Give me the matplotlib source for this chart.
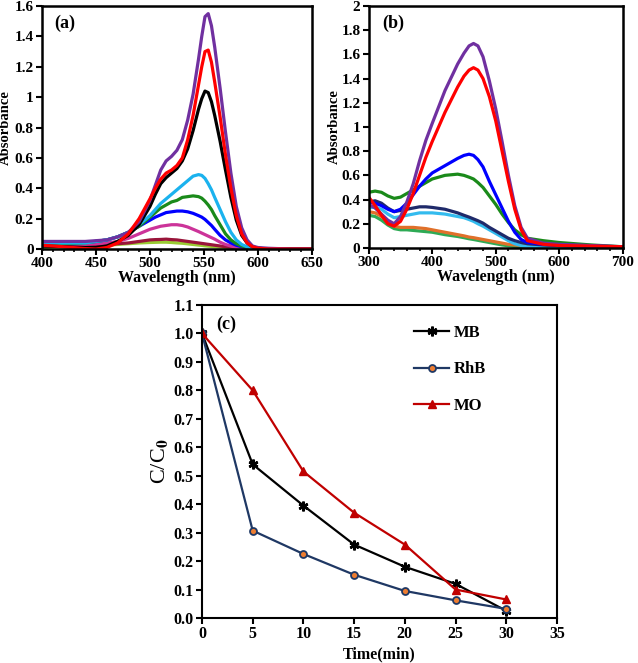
import matplotlib.pyplot as plt
from matplotlib.ticker import MultipleLocator, FormatStrFormatter

plt.rcParams['font.family'] = ['Liberation Serif', 'DejaVu Serif']
plt.rcParams['font.weight'] = 'bold'
plt.rcParams['mathtext.fontset'] = 'stix'

# ---- panel (a): RhB spectra ----
wl_a = [400, 420, 440, 450, 460, 470, 480, 490, 500, 505, 510, 515, 520, 525, 530, 535,
        540, 545, 548, 551, 554, 557, 560, 565, 570, 575, 580, 585, 590, 595, 600, 610, 630, 650]
a_purple = [0.05, 0.05, 0.05, 0.055, 0.06, 0.08, 0.11, 0.18, 0.32, 0.42, 0.52, 0.58, 0.61, 0.65, 0.72, 0.85,
            1.02, 1.25, 1.40, 1.53, 1.55, 1.47, 1.33, 1.06, 0.77, 0.50, 0.28, 0.14, 0.06, 0.02, 0.01, 0.005, 0.0, 0.0]
a_black = [0.02, 0.015, 0.01, 0.01, 0.02, 0.05, 0.09, 0.16, 0.28, 0.36, 0.43, 0.47, 0.50, 0.53, 0.58, 0.66,
           0.78, 0.92, 0.99, 1.04, 1.03, 0.97, 0.88, 0.71, 0.52, 0.34, 0.19, 0.09, 0.04, 0.015, 0.005, 0.0, 0.0, 0.0]
a_red = [0.025, 0.015, 0.003, 0.0, 0.01, 0.04, 0.10, 0.20, 0.33, 0.40, 0.46, 0.50, 0.52, 0.55, 0.60, 0.72,
         0.88, 1.08, 1.20, 1.30, 1.31, 1.23, 1.10, 0.87, 0.62, 0.40, 0.22, 0.10, 0.04, 0.015, 0.005, 0.0, 0.0, 0.0]
a_cyan = [0.04, 0.04, 0.04, 0.05, 0.06, 0.08, 0.11, 0.16, 0.22, 0.26, 0.30, 0.33, 0.36, 0.39, 0.42, 0.45,
          0.48, 0.49, 0.485, 0.465, 0.43, 0.39, 0.34, 0.26, 0.18, 0.11, 0.06, 0.03, 0.015, 0.008, 0.004, 0.002, 0.0, 0.0]
a_green = [0.03, 0.035, 0.04, 0.05, 0.06, 0.08, 0.11, 0.15, 0.21, 0.24, 0.27, 0.29, 0.31, 0.32, 0.34, 0.345,
           0.35, 0.345, 0.335, 0.315, 0.29, 0.26, 0.22, 0.16, 0.10, 0.06, 0.035, 0.02, 0.01, 0.005, 0.003, 0.0, 0.0, 0.0]
a_blue = [0.04, 0.04, 0.045, 0.05, 0.06, 0.08, 0.11, 0.15, 0.19, 0.21, 0.225, 0.24, 0.245, 0.25, 0.25, 0.245,
          0.235, 0.22, 0.21, 0.195, 0.175, 0.155, 0.13, 0.09, 0.06, 0.04, 0.025, 0.015, 0.008, 0.004, 0.002, 0.0, 0.0, 0.0]
a_magenta = [0.02, 0.025, 0.03, 0.035, 0.04, 0.05, 0.07, 0.10, 0.13, 0.14, 0.15, 0.155, 0.16, 0.16, 0.155, 0.145,
             0.13, 0.115, 0.105, 0.095, 0.085, 0.075, 0.065, 0.045, 0.03, 0.02, 0.01, 0.005, 0.003, 0.0, 0.0, 0.0, 0.0, 0.0]
a_maroon = [0.02, 0.022, 0.025, 0.028, 0.03, 0.035, 0.04, 0.05, 0.06, 0.062, 0.063, 0.065, 0.062, 0.06, 0.055, 0.05,
            0.045, 0.04, 0.037, 0.034, 0.031, 0.028, 0.025, 0.02, 0.015, 0.012, 0.008, 0.005, 0.003, 0.002, 0.0, 0.0, 0.0, 0.0]
a_lime = [0.01, 0.015, 0.02, 0.022, 0.025, 0.03, 0.035, 0.04, 0.043, 0.044, 0.045, 0.045, 0.043, 0.04, 0.038, 0.034,
          0.03, 0.026, 0.024, 0.021, 0.019, 0.017, 0.015, 0.012, 0.01, 0.007, 0.005, 0.003, 0.002, 0.001, 0.0, 0.0, 0.0, 0.0]
a_series = [(a_lime, '#99cc33'), (a_maroon, '#99143a'), (a_magenta, '#cc3399'), (a_blue, '#0000ff'),
            (a_green, '#1a8a1a'), (a_cyan, '#1ab2ee'), (a_black, '#000000'), (a_purple, '#7030a0'),
            (a_red, '#ff0000')]

# ---- panel (b): MO spectra ----
wl_b = [300, 310, 320, 330, 340, 350, 360, 370, 380, 390, 400, 420, 440, 450, 458, 465, 472, 480,
        490, 500, 510, 520, 530, 540, 550, 575, 600, 650, 700]
b_purple = [0.36, 0.33, 0.28, 0.23, 0.20, 0.26, 0.38, 0.53, 0.72, 0.89, 1.03, 1.30, 1.52, 1.61, 1.67, 1.69, 1.67, 1.58,
            1.38, 1.15, 0.88, 0.60, 0.35, 0.17, 0.08, 0.04, 0.03, 0.02, 0.01]
b_red = [0.42, 0.35, 0.27, 0.20, 0.18, 0.22, 0.32, 0.45, 0.60, 0.75, 0.88, 1.12, 1.33, 1.42, 1.47, 1.49, 1.47, 1.40,
         1.25, 1.05, 0.80, 0.55, 0.32, 0.15, 0.06, 0.03, 0.02, 0.015, 0.01]
b_blue = [0.38, 0.37, 0.35, 0.32, 0.30, 0.32, 0.37, 0.44, 0.51, 0.57, 0.62, 0.68, 0.74, 0.765, 0.775, 0.765, 0.73, 0.67,
          0.55, 0.44, 0.33, 0.22, 0.13, 0.07, 0.045, 0.03, 0.025, 0.015, 0.01]
b_green = [0.46, 0.47, 0.46, 0.43, 0.41, 0.42, 0.45, 0.48, 0.51, 0.54, 0.57, 0.60, 0.61, 0.60, 0.585, 0.57, 0.54, 0.50,
           0.43, 0.36, 0.28, 0.21, 0.15, 0.11, 0.08, 0.06, 0.045, 0.025, 0.01]
b_navy = [0.38, 0.39, 0.37, 0.33, 0.30, 0.31, 0.32, 0.33, 0.34, 0.34, 0.335, 0.32, 0.29, 0.27, 0.255, 0.24, 0.225, 0.205,
          0.17, 0.14, 0.11, 0.08, 0.06, 0.045, 0.035, 0.025, 0.02, 0.01, 0.005]
b_sky = [0.33, 0.34, 0.32, 0.28, 0.25, 0.26, 0.27, 0.28, 0.29, 0.29, 0.29, 0.28, 0.26, 0.25, 0.235, 0.22, 0.20, 0.18,
         0.15, 0.12, 0.09, 0.06, 0.035, 0.02, 0.01, 0.005, 0.003, 0.0, 0.0]
b_orange = [0.30, 0.29, 0.26, 0.22, 0.18, 0.17, 0.17, 0.17, 0.165, 0.16, 0.15, 0.13, 0.11, 0.10, 0.09, 0.085, 0.078, 0.07,
            0.06, 0.05, 0.04, 0.03, 0.025, 0.02, 0.018, 0.012, 0.01, 0.008, 0.005]
b_lgreen = [0.27, 0.26, 0.23, 0.19, 0.16, 0.15, 0.15, 0.145, 0.14, 0.135, 0.13, 0.11, 0.095, 0.085, 0.076, 0.07, 0.063, 0.055,
            0.045, 0.035, 0.025, 0.018, 0.012, 0.01, 0.008, 0.006, 0.005, 0.004, 0.003]
b_series = [(b_lgreen, '#2eaa55'), (b_orange, '#e0702a'), (b_sky, '#33bbee'), (b_navy, '#1f2a6a'),
            (b_green, '#1a8a1a'), (b_blue, '#0000ff'), (b_purple, '#7030a0'), (b_red, '#ff0000')]

# ---- panel (c): kinetics ----
time = [0, 5, 10, 15, 20, 25, 30]
mb = [1.0, 0.54, 0.395, 0.258, 0.18, 0.12, 0.025]
rhb = [1.0, 0.307, 0.225, 0.152, 0.095, 0.062, 0.032]
mo = [1.0, 0.80, 0.515, 0.37, 0.258, 0.10, 0.065]

fig = plt.figure(figsize=(6.38, 6.63), dpi=100)


def style(ax, lw=1.8, size=12):
    for s in ax.spines.values():
        s.set_linewidth(lw)
    ax.tick_params(which='major', direction='out', length=4, width=1.5, labelsize=size, pad=2)
    ax.tick_params(which='minor', direction='out', length=2.5, width=1.2)
    for lab in ax.get_xticklabels() + ax.get_yticklabels():
        lab.set_fontweight('bold')


ax1 = fig.add_axes([0.0658, 0.6244, 0.423, 0.3665])
for vals, c in a_series:
    ax1.plot(wl_a, vals, color=c, lw=2.3)
ax1.set_xlim(400, 650)
ax1.set_ylim(0, 1.6)
ax1.xaxis.set_major_locator(MultipleLocator(50))
ax1.xaxis.set_minor_locator(MultipleLocator(10))
ax1.yaxis.set_major_locator(MultipleLocator(0.2))
ax1.yaxis.set_major_formatter(plt.FuncFormatter(lambda v, p: f'{v:g}'))
ax1.set_xlabel('Wavelength (nm)', fontsize=11.5, fontweight='bold', labelpad=0)
ax1.set_ylabel('Absorbance', fontsize=10.5, fontweight='bold')
ax1.yaxis.set_label_coords(-0.11, 0.5)
ax1.text(0.045, 0.91, '(a)', transform=ax1.transAxes, fontsize=13, fontweight='bold')
style(ax1, size=11)

ax2 = fig.add_axes([0.578, 0.626, 0.398, 0.365])
for vals, c in b_series:
    ax2.plot(wl_b, vals, color=c, lw=2.3)
ax2.set_xlim(300, 700)
ax2.set_ylim(0, 2)
ax2.xaxis.set_major_locator(MultipleLocator(100))
ax2.xaxis.set_minor_locator(MultipleLocator(20))
ax2.yaxis.set_major_locator(MultipleLocator(0.2))
ax2.yaxis.set_major_formatter(plt.FuncFormatter(lambda v, p: f'{v:g}'))
ax2.set_xlabel('Wavelength (nm)', fontsize=11.5, fontweight='bold', labelpad=0)
ax2.set_ylabel('Absorbance', fontsize=10.5, fontweight='bold')
ax2.yaxis.set_label_coords(-0.11, 0.5)
ax2.text(0.055, 0.91, '(b)', transform=ax2.transAxes, fontsize=13, fontweight='bold')
style(ax2, size=11)

ax3 = fig.add_axes([0.3166, 0.0679, 0.5564, 0.472])
ax3.plot(time, mb, color='black', lw=1.6, marker=(6, 2, 0), ms=7, mew=1.8, label='MB')
ax3.plot(time, rhb, color='#1f3864', lw=1.6, marker='o', ms=5, mfc='#ed7d31', mec='#1f3864',
         mew=1.3, label='RhB')
ax3.plot(time, mo, color='#c00000', lw=1.6, marker='^', ms=6, label='MO')
ax3.set_xlim(0, 35)
ax3.set_ylim(0, 1.1)
ax3.xaxis.set_major_locator(MultipleLocator(5))
ax3.yaxis.set_major_locator(MultipleLocator(0.1))
ax3.yaxis.set_major_formatter(FormatStrFormatter('%.1f'))
ax3.set_xlabel('Time(min)', fontsize=11.5, fontweight='bold', labelpad=3)
ax3.set_ylabel('C/C$_0$', fontsize=16, fontweight='normal')
ax3.yaxis.set_label_coords(-0.09, 0.5)
ax3.text(0.04, 0.925, '(c)', transform=ax3.transAxes, fontsize=13, fontweight='bold')
leg = ax3.legend(loc='upper left', bbox_to_anchor=(0.565, 0.975), frameon=False, fontsize=12,
                 labelspacing=1.25, handlelength=2.1, handletextpad=0.3, borderaxespad=0.3)
for t in leg.get_texts():
    t.set_fontweight('bold')
style(ax3, lw=1.5, size=11.5)

fig.savefig('out.png', dpi=100)
